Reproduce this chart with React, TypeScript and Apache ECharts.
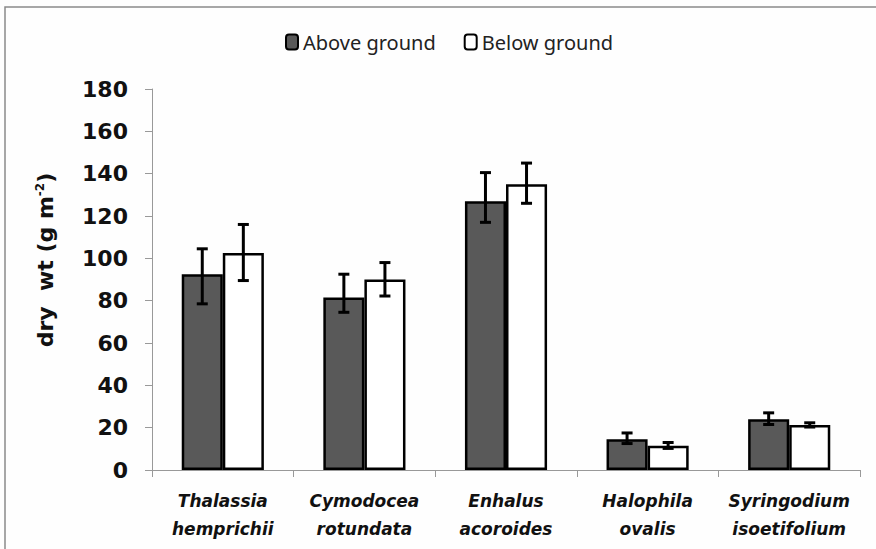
import React, { useEffect, useRef } from "react";
import * as echarts from "echarts";

const categories = [
  "Thalassia\nhemprichii",
  "Cymodocea\nrotundata",
  "Enhalus\nacoroides",
  "Halophila\novalis",
  "Syringodium\nisoetifolium",
];
const aboveGround = [92.5, 81.5, 127, 14.5, 24];
const aboveLow = [78.5, 74.5, 117, 12.5, 21.5];
const aboveHigh = [104.5, 92.5, 140.5, 17.5, 27];
const belowGround = [102.5, 90, 135, 11.5, 21.3];
const belowLow = [89.5, 82.2, 126, 10.2, 20.3];
const belowHigh = [116, 98, 145, 13, 22.3];
const yTicks = { min: 0, max: 180, interval: 20 };

const BAR_FRAC = 0.29;

function errSeries(name: string, vals: number[], lows: number[], highs: number[], side: number) {
  return {
    type: "custom",
    name: name + " err",
    z: 10,
    data: vals.map((v, i) => [i, v, lows[i], highs[i]]),
    encode: { x: 0, y: [2, 3] },
    renderItem: (params: any, api: any) => {
      const idx = api.value(0);
      const catW = api.size([1, 0])[0];
      const off = side * catW * BAR_FRAC * 0.5;
      const lo = api.coord([idx, api.value(2)]);
      const hi = api.coord([idx, api.value(3)]);
      const x = lo[0] + off;
      const cap = 5.5;
      const style = { stroke: "#000", lineWidth: 3, fill: "none" };
      return {
        type: "group",
        children: [
          { type: "line", shape: { x1: x, y1: lo[1], x2: x, y2: hi[1] }, style },
          { type: "line", shape: { x1: x - cap, y1: lo[1], x2: x + cap, y2: lo[1] }, style },
          { type: "line", shape: { x1: x - cap, y1: hi[1], x2: x + cap, y2: hi[1] }, style },
        ],
      };
    },
    silent: true,
    tooltip: { show: false },
  };
}

export default function App() {
  const ref = useRef<HTMLDivElement>(null);
  useEffect(() => {
    if (!ref.current) return;
    const chart = echarts.init(ref.current, null, { renderer: "svg" });
    chart.setOption({
      animation: false,
      backgroundColor: "#fefefe",
      graphic: [
        {
          type: "rect",
          shape: { x: 5, y: 7, width: 900, height: 600 },
          style: { fill: "none", stroke: "#8a8a8a", lineWidth: 1.5 },
          silent: true,
        },
        {
          type: "text",
          x: 45,
          y: 260,
          rotation: Math.PI / 2,
          silent: true,
          style: {
            text: "{a|dry  wt (g m}{s|-2}{a|)}",
            align: "center",
            verticalAlign: "middle",
            rich: {
              a: { fontFamily: "DejaVu Sans", fontWeight: "bold", fontSize: 22, fill: "#111", verticalAlign: "bottom" },
              s: { fontFamily: "DejaVu Sans", fontWeight: "bold", fontSize: 12, fill: "#111", verticalAlign: "top" },
            },
          },
        },
      ],
      legend: {
        top: 27,
        left: 280,
        itemWidth: 12,
        itemHeight: 15,
        itemGap: 28,
        data: ["Above ground", "Below ground"],
        textStyle: { fontFamily: "Noto Sans", fontSize: 20, color: "#222" },
      },
      grid: { left: 152, right: 16, top: 89, bottom: 79 },
      xAxis: {
        type: "category",
        data: categories,
        axisLine: { lineStyle: { color: "#999", width: 1 } },
        axisTick: { show: true, length: 7, interval: 0, lineStyle: { color: "#999" } },
        axisLabel: {
          interval: 0,
          margin: 17,
          fontFamily: "DejaVu Sans",
          fontWeight: "bold",
          fontStyle: "italic",
          fontSize: 17,
          lineHeight: 28,
          color: "#111",
        },
      },
      yAxis: {
        type: "value",
        min: yTicks.min,
        max: yTicks.max,
        interval: yTicks.interval,
        axisLine: { show: true, lineStyle: { color: "#999" } },
        axisTick: { show: true, length: 7, lineStyle: { color: "#999" } },
        splitLine: { show: false },
        axisLabel: {
          margin: 24,
          fontFamily: "DejaVu Sans",
          fontWeight: "bold",
          fontSize: 22,
          color: "#111",
        },
      },
      series: [
        {
          type: "bar",
          name: "Above ground",
          data: aboveGround,
          barWidth: BAR_FRAC * 100 + "%",
          barGap: "0%",
          itemStyle: { color: "#595959", borderColor: "#000", borderWidth: 2.5 },
        },
        {
          type: "bar",
          name: "Below ground",
          data: belowGround,
          barWidth: BAR_FRAC * 100 + "%",
          barGap: "0%",
          itemStyle: { color: "#ffffff", borderColor: "#000", borderWidth: 2.5 },
        },
        errSeries("Above ground", aboveGround, aboveLow, aboveHigh, -1),
        errSeries("Below ground", belowGround, belowLow, belowHigh, 1),
      ],
    });
    return () => chart.dispose();
  }, []);
  return (
    <div
      ref={ref}
      style={{ position: "fixed", left: 0, top: 0, width: 876, height: 549 }}
    />
  );
}
